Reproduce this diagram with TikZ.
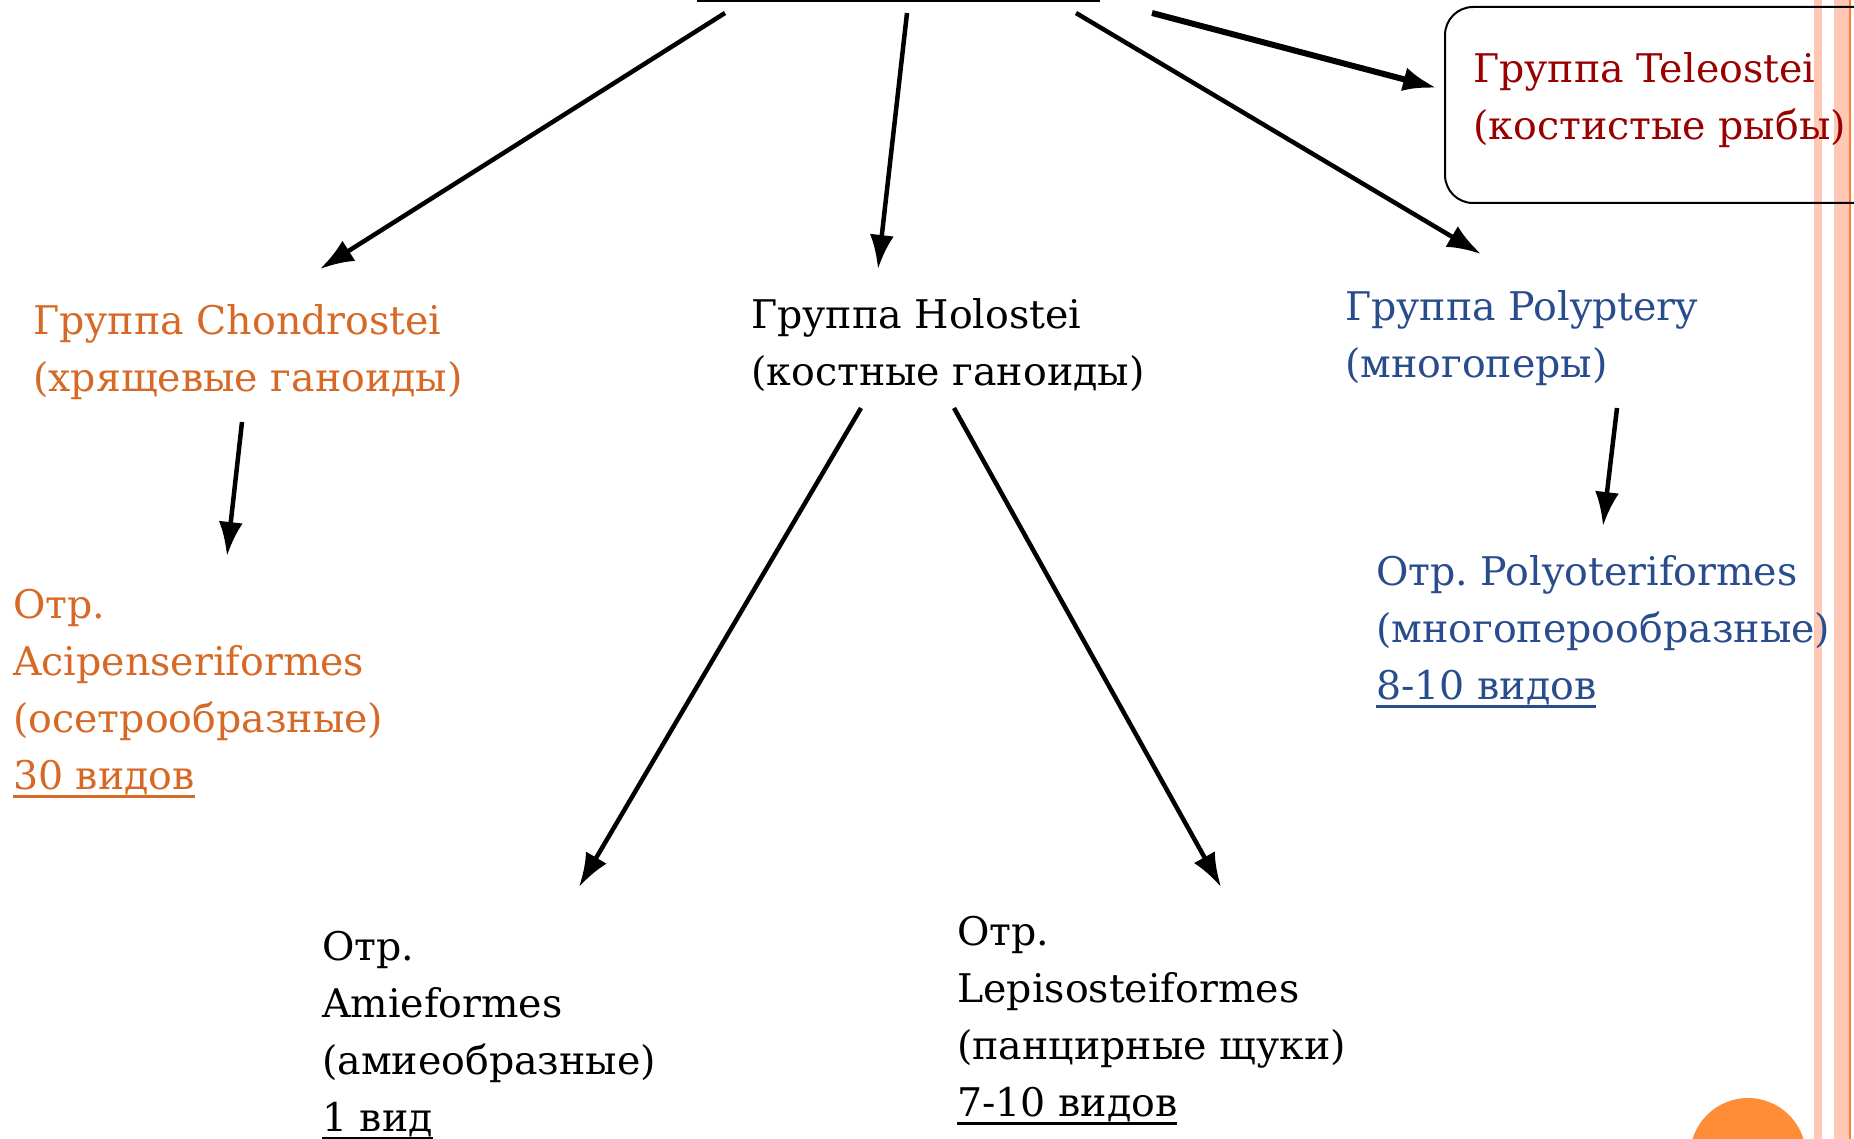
\documentclass[tikz,border=0pt]{standalone}
\usepackage{fontspec}
\setmainfont{DejaVu Serif}
\usetikzlibrary{arrows.meta}
\definecolor{ochre}{RGB}{214,105,38}
\definecolor{tred}{RGB}{153,0,0}
\definecolor{pblue}{RGB}{41,76,140}
\definecolor{stripe}{RGB}{255,200,180}
\definecolor{stripeline}{RGB}{255,125,45}
\definecolor{dotfill}{RGB}{255,140,55}
\newcommand\ulx[1]{\setbox0\hbox{#1}\rlap{\rule[-9pt]{\wd0}{2.8pt}}\box0}
\frenchspacing
\begin{document}
\begin{tikzpicture}[x=1pt,y=-1pt,
  lbl/.style={anchor=north west, inner sep=0pt, align=left, font=\fontsize{39.5}{57}\selectfont},
  arr/.style={line width=4.5pt, -{Latex[length=34pt,width=24pt]}},
  boxline/.style={draw=black, line width=2pt, rounded corners=28pt}
]
\useasboundingbox (0,0) rectangle (1854,1139);
\clip (0,0) rectangle (1854,1139);
\fill[white] (0,0) rectangle (1854,1139);
% decorative stripes and circle
\fill[stripe] (1814,0) rectangle (1822,1139);
\fill[stripe] (1834,0) rectangle (1849,1139);
\fill[stripeline] (1849,0) rectangle (1851,1139);
\fill[dotfill] (1748,1156) circle (58pt);
% cut-off title underline
\draw[line width=2.5pt] (697,1) -- (1100,1);
% Teleostei box
\node[boxline, anchor=north west, minimum width=480pt, minimum height=196pt, inner sep=0pt] (telebox) at (1444,6) {};
% texts
\node[lbl, text=tred] (tele) at (1473,42) {\strut Группа Teleostei\\(костистые рыбы)};
\node[lbl, text=ochre] (chond) at (33,294) {\strut Группа Chondrostei\\(хрящевые ганоиды)};
\node[lbl] (holo) at (751,288) {\strut Группа Holostei\\(костные ганоиды)};
\node[lbl, text=pblue] (poly) at (1345,280) {\strut Группа Polyptery\\(многоперы)};
\node[lbl, text=ochre] (acip) at (13,578) {\strut Отр.\\Acipenseriformes\\(осетрообразные)\\\ulx{30 видов}};
\node[lbl, text=pblue] (polyo) at (1376,545) {\strut Отр. Polyoteriformes\\(многоперообразные)\\\ulx{8-10 видов}};
\node[lbl] (amie) at (322,920) {\strut Отр.\\Amieformes\\(амиеобразные)\\\ulx{1 вид}};
\node[lbl] (lepi) at (957,905) {\strut Отр.\\Lepisosteiformes\\(панцирные щуки)\\\ulx{7-10 видов}};
% arrow end points
\coordinate (s1) at (725,13);
\coordinate (s2) at (907,13);
\coordinate (s3) at (1076,13);
\coordinate (s4) at (1152,13);
\coordinate (t1) at (320,269);
\coordinate (t2) at (878,269);
\coordinate (t3) at (1481,254);
\coordinate (t4) at (1437,88);
\coordinate (c1) at (242,422);
\coordinate (d1) at (227,556);
\coordinate (h1) at (861,408);
\coordinate (e1) at (579,887);
\coordinate (h2) at (954,408);
\coordinate (e2) at (1221,887);
\coordinate (p1) at (1617,408);
\coordinate (q1) at (1603,526);
\draw[arr] (s1) -- (t1);
\draw[arr] (s2) -- (t2);
\draw[arr] (s3) -- (t3);
\draw[arr, line width=6pt] (s4) -- (t4);
\draw[arr] (c1) -- (d1);
\draw[arr] (h1) -- (e1);
\draw[arr] (h2) -- (e2);
\draw[arr] (p1) -- (q1);
\end{tikzpicture}
\end{document}
